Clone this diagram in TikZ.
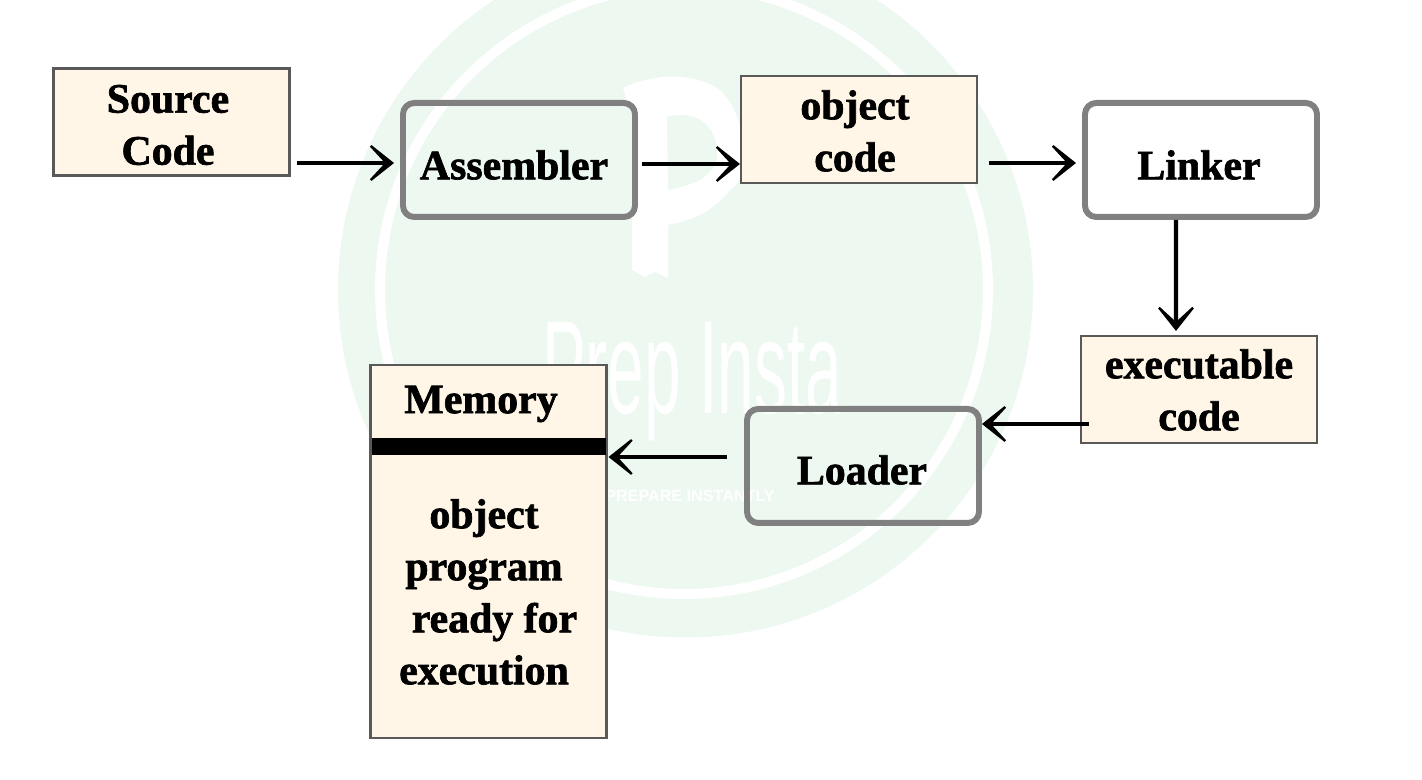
\documentclass[tikz,border=0pt]{standalone}
\usepackage{fontspec}
\newfontfamily\boxfont[BoldFeatures={FakeBold=1.6}]{Liberation Serif}
\newfontfamily\markfont{Liberation Sans}
\usetikzlibrary{arrows.meta}
\definecolor{creamfill}{HTML}{FFF6E7}
\definecolor{markgreen}{HTML}{EDF8F0}
\definecolor{edgegrey}{HTML}{808080}
\tikzset{
  filebox/.style={draw=black!65,line width=0.6pt,fill=creamfill,minimum width=2.36cm,minimum height=1.07cm,inner sep=0pt},
  toolbox/.style={draw=edgegrey,line width=1.7pt,rounded corners=3.2pt,minimum width=2.32cm,minimum height=1.14cm,inner sep=0pt},
  boxtext/.style={font=\boxfont\bfseries\fontsize{11.9}{14.8}\selectfont,align=center,text=black,inner sep=0pt},
  flowarrow/.style={-{Stealth[length=3.4mm,width=5.4mm,inset=2.5mm]},line width=1.2pt},
}
\begin{document}
\begin{tikzpicture}
\useasboundingbox (0,0) rectangle (14.22,7.80);
% ---------- watermark ----------
\begin{scope}
\clip (0,0) rectangle (14.22,7.80);
\fill[markgreen] (6.855,4.90) circle (3.475);
\draw[white,line width=0.10cm] (6.84,4.90) circle (3.04);
\end{scope}
\fill[white,even odd rule] (6.23,6.92) .. controls (6.50,7.05) and (6.90,7.10) .. (7.20,6.90)
  .. controls (7.50,6.60) and (7.50,6.00) .. (7.30,5.90)
  .. controls (7.10,5.65) and (6.90,5.60) .. (6.68,5.55)
  -- (6.68,5.02) -- (6.55,5.08) -- (6.45,5.03) -- (6.32,5.10) -- (6.32,6.65) -- cycle
  (6.67,6.63) .. controls (6.90,6.70) and (7.15,6.60) .. (7.17,6.30)
  .. controls (7.20,6.05) and (6.95,5.95) .. (6.68,5.90) -- cycle;
\node[text=white,font=\markfont\fontsize{26}{26}\selectfont,xscale=0.72,yscale=1.45] (brandname) at (6.92,3.98) {Prep Insta};
\node[text=white,font=\markfont\bfseries\fontsize{4.6}{4.6}\selectfont] (brandline) at (6.90,2.84) {PREPARE INSTANTLY};
% ---------- top row ----------
\node[filebox] (source) at (1.715,6.58) {};
\node[boxtext] (sourcetext) at (1.68,6.55) {Source\\Code};
\node[toolbox] (assembler) at (5.19,6.20) {};
\node[boxtext] (assemblertext) at (5.14,6.15) {Assembler};
\node[filebox] (objcode) at (8.59,6.505) {};
\node[boxtext] (objtext) at (8.55,6.49) {object\\code};
\node[toolbox] (linker) at (12.01,6.20) {};
\node[boxtext] (linkertext) at (11.99,6.15) {Linker};
% ---------- bottom row ----------
\node[filebox] (execcode) at (11.99,3.905) {};
\node[boxtext] (exectext) at (11.99,3.90) {executable\\code};
\node[toolbox] (loader) at (8.63,3.14) {};
\node[boxtext] (loadertext) at (8.62,3.10) {Loader};
% ---------- memory ----------
\node[filebox,minimum height=3.73cm] (memory) at (4.885,2.285) {};
\node[boxtext] (memorytext) at (4.81,3.76) {Memory};
\node[fill=black,minimum width=2.34cm,minimum height=0.17cm,inner sep=0pt] (membar) at (4.89,3.335) {};
\node[boxtext] (programtext) at (4.84,1.88) {object\\program\\\hspace*{0.5em}ready for\\execution};
% ---------- connectors ----------
\draw[flowarrow] ([xshift=0.06cm,yshift=-0.03cm]source.east |- assembler.west) -- ([xshift=-0.06cm,yshift=-0.03cm]assembler.west);
\draw[flowarrow] ([xshift=0.04cm,yshift=-0.04cm]assembler.east) -- ([yshift=-0.04cm]assembler.east -| objcode.west);
\draw[flowarrow] ([xshift=0.11cm,yshift=-0.03cm]objcode.east |- linker.east) -- ([xshift=-0.06cm,yshift=-0.03cm]linker.west);
\draw[flowarrow] ([xshift=-0.25cm]linker.south) -- ([xshift=-0.23cm,yshift=0.04cm]execcode.north);
\draw[flowarrow] ([xshift=0.09cm]execcode.west |- 0,3.56) -- (loader.east |- 0,3.56);
\draw[flowarrow] ([xshift=-0.17cm]loader.west |- 0,3.23) -- ([xshift=0.01cm]memory.east |- 0,3.23);
\end{tikzpicture}
\end{document}
